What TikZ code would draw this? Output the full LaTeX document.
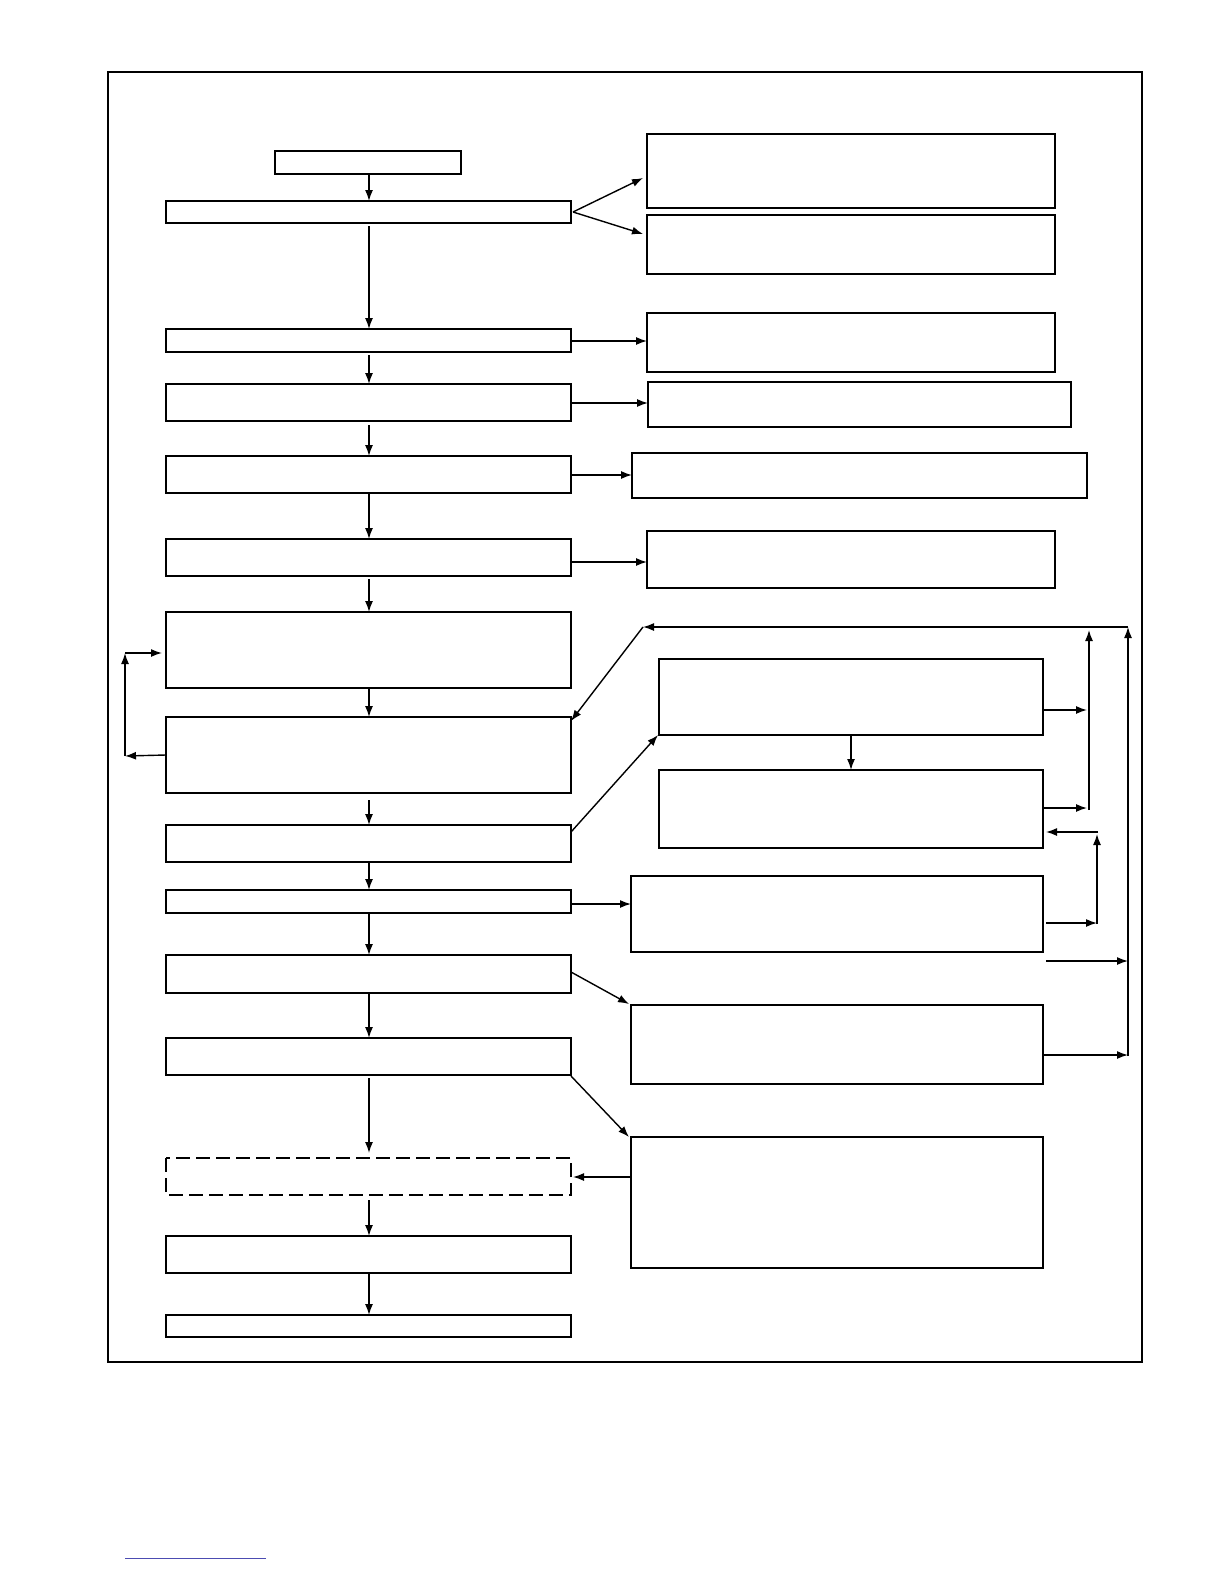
\documentclass[tikz,border=0pt]{standalone}
\usetikzlibrary{arrows.meta}
\begin{document}
\begin{tikzpicture}[x=1bp,y=-1bp,line width=1.4bp,
  bx/.style={draw,line width=1.4bp},
  ar/.style={-{Latex[length=11bp,width=8bp]},line width=1.4bp}]
\useasboundingbox (0,0) rectangle (1224,1584);
\draw[line width=2.2bp] (108,72) rectangle (1142,1362);
\draw[line width=0.8bp,blue!40!gray] (125,1558) -- (266,1558);
% left
\draw[bx] (275,151) rectangle (461,174); \coordinate (L0b) at (369,174);
\foreach \n/\a/\b in {1/201/223,2/329/352,3/384/421,4/456/493,5/539/576,6/612/688,7/717/793,8/825/862,9/890/913,10/955/993,11/1038/1075,13/1236/1273,14/1315/1337}{
  \draw[bx] (166,\a) rectangle (571,\b);
  \coordinate (L\n t) at (369,\a); \coordinate (L\n b) at (369,\b);
  \coordinate (L\n r) at (571,{(\a+\b)/2}); \coordinate (L\n l) at (166,{(\a+\b)/2});
}
\draw[bx,dash pattern=on 14bp off 6bp] (166,1158) rectangle (571,1195);
\coordinate (L12t) at (369,1158); \coordinate (L12b) at (369,1195);
% right
\draw[bx] (647,134) rectangle (1055,208);
\draw[bx] (647,215) rectangle (1055,274);
\draw[bx] (647,313) rectangle (1055,372);
\draw[bx] (648,382) rectangle (1071,427);
\draw[bx] (632,453) rectangle (1087,498);
\draw[bx] (647,531) rectangle (1055,588);
\draw[bx] (659,659) rectangle (1043,735);
\draw[bx] (659,770) rectangle (1043,848);
\draw[bx] (631,876) rectangle (1043,952);
\draw[bx] (631,1005) rectangle (1043,1084);
\draw[bx] (631,1137) rectangle (1043,1268);
% left column arrows
\draw[ar] (L0b) -- (L1t);
\draw[ar] (369,226) -- (L2t);
\draw[ar] (369,355) -- (L3t);
\draw[ar] (369,425) -- (L4t);
\draw[ar] (L4b) -- (L5t);
\draw[ar] (369,579) -- (L6t);
\draw[ar] (L6b) -- (L7t);
\draw[ar] (369,800) -- (L8t);
\draw[ar] (L8b) -- (L9t);
\draw[ar] (L9b) -- (L10t);
\draw[ar] (L10b) -- (L11t);
\draw[ar] (369,1078) -- (369,1153);
\draw[ar] (369,1200) -- (L13t);
\draw[ar] (L13b) -- (L14t);
% to right
\draw[ar] (573,212) -- (643,178);
\draw[ar] (573,212) -- (643,234);
\draw[ar] (571,341) -- (647,341);
\draw[ar] (571,403) -- (648,403);
\draw[ar] (571,475) -- (632,475);
\draw[ar] (571,562) -- (647,562);
\draw[ar] (571,832) -- (658,735);
\draw[ar] (571,904) -- (631,904);
\draw[ar] (571,972) -- (629,1004);
\draw[ar] (571,1076) -- (629,1137);
\draw[ar] (631,1177) -- (573,1177);
% loop
\draw[ar] (L7l) -- (125,756);
\draw[ar] (125,756) -- (125,653);
\draw[ar] (125,653) -- (162,653);
% feedback
\draw[ar] (1128,627) -- (643,627);
\draw[ar] (643,627) -- (571,721);
\draw[ar] (1128,1056) -- (1128,627);
\draw[ar] (1043,710) -- (1087,710);
\draw[ar] (1043,808) -- (1087,808);
\draw[ar] (1089,810) -- (1089,630);
\draw[ar] (851,735) -- (851,770);
\draw[ar] (1098,832) -- (1046,832);
\draw[ar] (1097,924) -- (1097,834);
\draw[ar] (1046,923) -- (1097,923);
\draw[ar] (1046,961) -- (1128,961);
\draw[ar] (1043,1055) -- (1128,1055);
\end{tikzpicture}
\end{document}
